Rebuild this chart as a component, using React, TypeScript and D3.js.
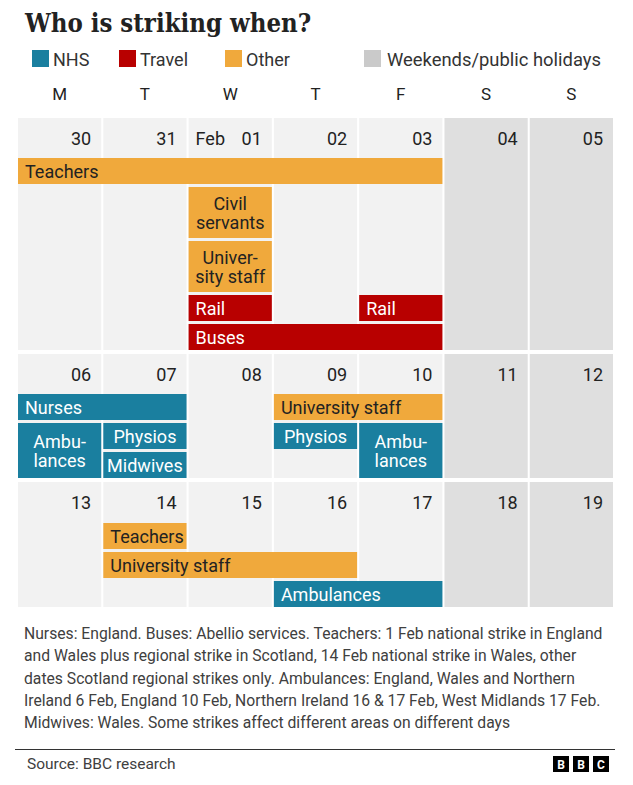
import React from "react";
import * as d3 from "d3";

const W = 633;
const H = 785;

// ---------- data ----------
const dayLetters = ["M", "T", "W", "T", "F", "S", "S"];
const weekDates = [
  ["30", "31", "01", "02", "03", "04", "05"],
  ["06", "07", "08", "09", "10", "11", "12"],
  ["13", "14", "15", "16", "17", "18", "19"],
];
const monthMarkers = [{ week: 0, col: 2, text: "Feb" }];
const weekendCols = [5, 6];
const categories = ["NHS", "Travel", "Other"];
const categoryColors = ["#1a7f9f", "#b80000", "#f0a93c"];
const weekendLabel = "Weekends/public holidays";

type Strike = {
  label: string[];
  cat: string;
  week: number;
  start: number;
  end: number;
  lane: number;
  span: number;
  align: "left" | "center";
};

const strikes: Strike[] = [
  { label: ["Teachers"], cat: "Other", week: 0, start: 0, end: 4, lane: 0, span: 1, align: "left" },
  { label: ["Civil", "servants"], cat: "Other", week: 0, start: 2, end: 2, lane: 1, span: 1, align: "center" },
  { label: ["Univer-", "sity staff"], cat: "Other", week: 0, start: 2, end: 2, lane: 2, span: 1, align: "center" },
  { label: ["Rail"], cat: "Travel", week: 0, start: 2, end: 2, lane: 3, span: 1, align: "left" },
  { label: ["Rail"], cat: "Travel", week: 0, start: 4, end: 4, lane: 3, span: 1, align: "left" },
  { label: ["Buses"], cat: "Travel", week: 0, start: 2, end: 4, lane: 4, span: 1, align: "left" },
  { label: ["Nurses"], cat: "NHS", week: 1, start: 0, end: 1, lane: 0, span: 1, align: "left" },
  { label: ["Ambu-", "lances"], cat: "NHS", week: 1, start: 0, end: 0, lane: 1, span: 2, align: "center" },
  { label: ["Physios"], cat: "NHS", week: 1, start: 1, end: 1, lane: 1, span: 1, align: "center" },
  { label: ["Midwives"], cat: "NHS", week: 1, start: 1, end: 1, lane: 2, span: 1, align: "center" },
  { label: ["University staff"], cat: "Other", week: 1, start: 3, end: 4, lane: 0, span: 1, align: "left" },
  { label: ["Physios"], cat: "NHS", week: 1, start: 3, end: 3, lane: 1, span: 1, align: "center" },
  { label: ["Ambu-", "lances"], cat: "NHS", week: 1, start: 4, end: 4, lane: 1, span: 2, align: "center" },
  { label: ["Teachers"], cat: "Other", week: 2, start: 1, end: 1, lane: 0, span: 1, align: "left" },
  { label: ["University staff"], cat: "Other", week: 2, start: 1, end: 3, lane: 1, span: 1, align: "left" },
  { label: ["Ambulances"], cat: "NHS", week: 2, start: 3, end: 4, lane: 2, span: 1, align: "left" },
];

const footnoteLines = [
  "Nurses: England. Buses: Abellio services. Teachers: 1 Feb national strike in England",
  "and Wales plus regional strike in Scotland, 14 Feb national strike in Wales, other",
  "dates Scotland regional strikes only. Ambulances: England, Wales and Northern",
  "Ireland 6 Feb, England 10 Feb, Northern Ireland 16 & 17 Feb, West Midlands 17 Feb.",
  "Midwives: Wales. Some strikes affect different areas on different days",
];
const sourceText = "Source: BBC research";
const titleText = "Who is striking when?";

// ---------- layout ----------
const SANS = "Roboto, 'Noto Sans', sans-serif";
const weekTops = [118, 354, 482];
const headerH = [40, 40, 41];
const laneHeights = [
  [26, 51, 51, 26, 26],
  [26, 26, 26],
  [26, 26, 26],
];
const laneGap = 3;

const x = d3
  .scaleBand<number>()
  .domain(d3.range(7))
  .range([18, 613])
  .paddingInner(0.024)
  .paddingOuter(0);

const color = d3.scaleOrdinal<string, string>().domain(categories).range(categoryColors);

function laneY(week: number, lane: number) {
  let y = weekTops[week] + headerH[week];
  for (let i = 0; i < lane; i++) y += laneHeights[week][i] + laneGap;
  return y;
}
function laneBottom(week: number, lane: number) {
  return laneY(week, lane) + laneHeights[week][lane];
}
function weekBottom(week: number) {
  const n = laneHeights[week].length;
  return laneBottom(week, n - 1);
}

const legendX = [32, 119, 225];
const weekendLegendX = 364;

export default function App() {
  const bw = x.bandwidth();
  return (
    <svg
      width={W}
      height={H}
      viewBox={`0 0 ${W} ${H}`}
      style={{ position: "absolute", left: 0, top: 0, background: "#fff" }}
    >
      <rect x={0} y={0} width={W} height={H} fill="#fff" />
      {/* title */}
      <text
        x={25}
        y={32}
        fontFamily="'DejaVu Serif', serif"
        fontWeight="bold"
        fontSize={25.5}
        style={{ fontStretch: "condensed" }}
        fill="#222"
      >
        {titleText}
      </text>

      {/* legend */}
      {categories.map((c, i) => (
        <g key={c}>
          <rect x={legendX[i]} y={50} width={17} height={17} fill={color(c)} />
          <text x={legendX[i] + 21} y={66} fontFamily={SANS} fontSize={18} fill="#333">
            {c}
          </text>
        </g>
      ))}
      <rect x={weekendLegendX} y={50} width={17} height={17} fill="#cacaca" />
      <text x={weekendLegendX + 23} y={66} fontFamily={SANS} fontSize={18.4} fill="#333">
        {weekendLabel}
      </text>

      {/* day letters */}
      {dayLetters.map((d, i) => (
        <text
          key={i}
          x={(x(i) as number) + bw / 2}
          y={100}
          textAnchor="middle"
          fontFamily={SANS}
          fontSize={17}
          fill="#222"
        >
          {d}
        </text>
      ))}

      {/* cells */}
      {weekDates.map((dates, w) =>
        dates.map((d, c) => (
          <rect
            key={`c${w}-${c}`}
            x={x(c)}
            y={weekTops[w]}
            width={bw}
            height={weekBottom(w) - weekTops[w]}
            fill={weekendCols.includes(c) ? "#dfdfdf" : "#f2f2f2"}
          />
        ))
      )}

      {/* date numbers */}
      {weekDates.map((dates, w) =>
        dates.map((d, c) => (
          <text
            key={`d${w}-${c}`}
            x={(x(c) as number) + bw - 10}
            y={weekTops[w] + 27}
            textAnchor="end"
            fontFamily={SANS}
            fontSize={18}
            fill="#222"
          >
            {d}
          </text>
        ))
      )}
      {monthMarkers.map((m, i) => (
        <text
          key={`m${i}`}
          x={(x(m.col) as number) + 7}
          y={weekTops[m.week] + 27}
          fontFamily={SANS}
          fontSize={18}
          fill="#222"
        >
          {m.text}
        </text>
      ))}

      {/* strikes */}
      {strikes.map((s, i) => {
        const x0 = x(s.start) as number;
        const x1 = (x(s.end) as number) + bw;
        const y0 = laneY(s.week, s.lane);
        const y1 = laneBottom(s.week, s.lane + s.span - 1);
        const cy = (y0 + y1) / 2;
        const txtFill = s.cat === "Other" ? "#222" : "#fff";
        const tx = s.align === "center" ? (x0 + x1) / 2 : x0 + 7;
        const anchor = s.align === "center" ? "middle" : "start";
        return (
          <g key={`s${i}`}>
            <rect x={x0} y={y0} width={x1 - x0} height={y1 - y0} fill={color(s.cat)} />
            {s.label.length === 1 ? (
              <text x={tx} y={cy + 6.5} textAnchor={anchor} fontFamily={SANS} fontSize={18} fill={txtFill}>
                {s.label[0]}
              </text>
            ) : (
              s.label.map((l, j) => (
                <text
                  key={j}
                  x={tx}
                  y={cy - 2.5 + j * 18.5}
                  textAnchor={anchor}
                  fontFamily={SANS}
                  fontSize={18}
                  fill={txtFill}
                >
                  {l}
                </text>
              ))
            )}
          </g>
        );
      })}

      {/* footnote */}
      {footnoteLines.map((l, i) => (
        <text key={`f${i}`} x={24} y={639 + i * 22.3} fontFamily={SANS} fontSize={15.7} fill="#404040">
          {l}
        </text>
      ))}

      <line x1={15} x2={615} y1={749.5} y2={749.5} stroke="#333" strokeWidth={1} />
      <text x={27} y={769} fontFamily={SANS} fontSize={15.5} fill="#404040">
        {sourceText}
      </text>

      {/* BBC logo */}
      {["B", "B", "C"].map((ch, i) => (
        <g key={`b${i}`}>
          <rect x={553 + i * 20} y={756} width={16} height={16} fill="#000" />
          <text
            x={553 + i * 20 + 8}
            y={768.5}
            textAnchor="middle"
            fontFamily={SANS}
            fontWeight="bold"
            fontSize={12}
            fill="#fff"
          >
            {ch}
          </text>
        </g>
      ))}
    </svg>
  );
}
